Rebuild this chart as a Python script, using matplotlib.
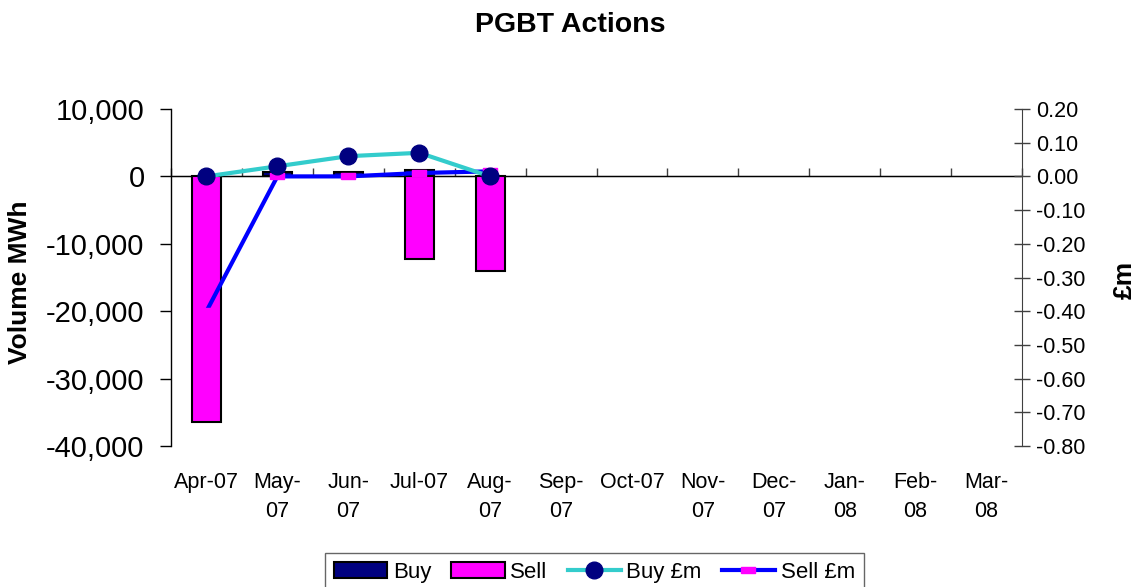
import matplotlib
matplotlib.use("Agg")
import matplotlib.pyplot as plt
import numpy as np
from matplotlib.ticker import FuncFormatter
from matplotlib.patches import Patch
from matplotlib.lines import Line2D

plt.rcParams['font.family'] = ['Liberation Sans', 'DejaVu Sans']

nan = np.nan
categories = ["Apr-07", "May-\n07", "Jun-\n07", "Jul-07", "Aug-\n07", "Sep-\n07",
              "Oct-07", "Nov-\n07", "Dec-\n07", "Jan-\n08", "Feb-\n08", "Mar-\n08"]
buy_vol = [nan, 700, 700, 900, nan, nan, nan, nan, nan, nan, nan, nan]
sell_vol = [-36500, nan, nan, -12300, -14000, nan, nan, nan, nan, nan, nan, nan]
buy_gbp = [0.0, 0.03, 0.06, 0.07, 0.0]
sell_gbp = [-0.40, 0.0, 0.0, 0.01, 0.015]

fig = plt.figure(figsize=(11.39, 5.87), dpi=100)
ax = fig.add_axes([171/1139, 1-446/587, (1022-171)/1139, (446-109)/587])
x = np.arange(len(categories))

ax.bar(x, buy_vol, width=0.41, color='#000080', edgecolor='black', linewidth=1.5, zorder=2)
ax.bar(x, sell_vol, width=0.41, color='#FF00FF', edgecolor='black', linewidth=1.5, zorder=2)
ax.axhline(0, color='black', linewidth=1.0, zorder=1)

ax.set_xlim(-0.5, len(categories) - 0.5)
ax.set_ylim(-40000, 10000)
ax.set_yticks(np.arange(-40000, 10001, 10000))
ax.yaxis.set_major_formatter(FuncFormatter(lambda v, p: f"{v:,.0f}"))
ax.tick_params(axis='y', direction='out', length=8, width=1, labelsize=21, pad=11)
ax.set_xticks(x)
ax.set_xticklabels(categories, fontsize=15.5, linespacing=1.5, va='top')
ax.tick_params(axis='x', length=0, pad=19)
for s in ['top', 'right', 'bottom']:
    ax.spines[s].set_visible(False)
ax.spines['left'].set_linewidth(1.0)
ax.set_ylabel("Volume MWh", fontsize=19, fontweight='bold')
ax.yaxis.set_label_coords(-0.163, 0.487)

# category boundary ticks on the zero line
sec = ax.secondary_xaxis(0.8)
sec.set_xticks(np.arange(-0.5, len(categories), 1.0))
sec.set_xticklabels([])
sec.tick_params(direction='out', length=6, width=1, color='#404040')
sec.spines['bottom'].set_visible(False)

ax2 = ax.twinx()
ax2.set_ylim(-0.8, 0.2)
ax2.set_yticks(np.round(np.arange(-0.8, 0.201, 0.1), 2))
ax2.yaxis.set_major_formatter(FuncFormatter(lambda v, p: f"{abs(v):.2f}" if abs(v) < 1e-9 else f"{v:.2f}"))
ax2.tick_params(axis='y', direction='inout', length=12, width=1, labelsize=15.5, pad=4, color='#404040')
for s in ['top', 'left', 'bottom']:
    ax2.spines[s].set_visible(False)
ax2.spines['right'].set_color('#404040')
ax2.set_ylabel("£m", fontsize=19, fontweight='bold')
ax2.yaxis.set_label_coords(1.107, 0.493)

rect = [(-1, -0.45), (1, -0.45), (1, 0.45), (-1, 0.45), (-1, -0.45)]
xl = np.arange(len(buy_gbp))
ax2.plot(xl, sell_gbp, color='#0000FF', linewidth=3, marker=rect, markersize=10,
         markerfacecolor='#FF00FF', markeredgecolor='#FF00FF', zorder=3)
ax2.plot(xl, buy_gbp, color='#33CCCC', linewidth=3, marker='o', markersize=12,
         markerfacecolor='#000080', markeredgecolor='#000080', zorder=4)

fig.suptitle("PGBT Actions", x=570/1139, y=1-12/587, va='top', fontsize=20.5, fontweight='bold')

handles = [
    Patch(facecolor='#000080', edgecolor='black', linewidth=1.5),
    Patch(facecolor='#FF00FF', edgecolor='black', linewidth=1.5),
    Line2D([0], [0], color='#33CCCC', linewidth=3, marker='o', markersize=12,
           markerfacecolor='#000080', markeredgecolor='#000080'),
    Line2D([0], [0], color='#0000FF', linewidth=3, marker=rect, markersize=10,
           markerfacecolor='#FF00FF', markeredgecolor='#FF00FF'),
]
leg = fig.legend(handles, ["Buy", "Sell", "Buy £m", "Sell £m"], ncol=4,
                 loc='upper center', bbox_to_anchor=(594.5/1139, 1-553/587),
                 fontsize=16, frameon=True, fancybox=False, edgecolor='#404040',
                 handlelength=2.4, handletextpad=0.25, columnspacing=0.9,
                 borderpad=0.4, borderaxespad=0)
leg.get_frame().set_linewidth(1.0)

fig.savefig("out.png", dpi=100)
